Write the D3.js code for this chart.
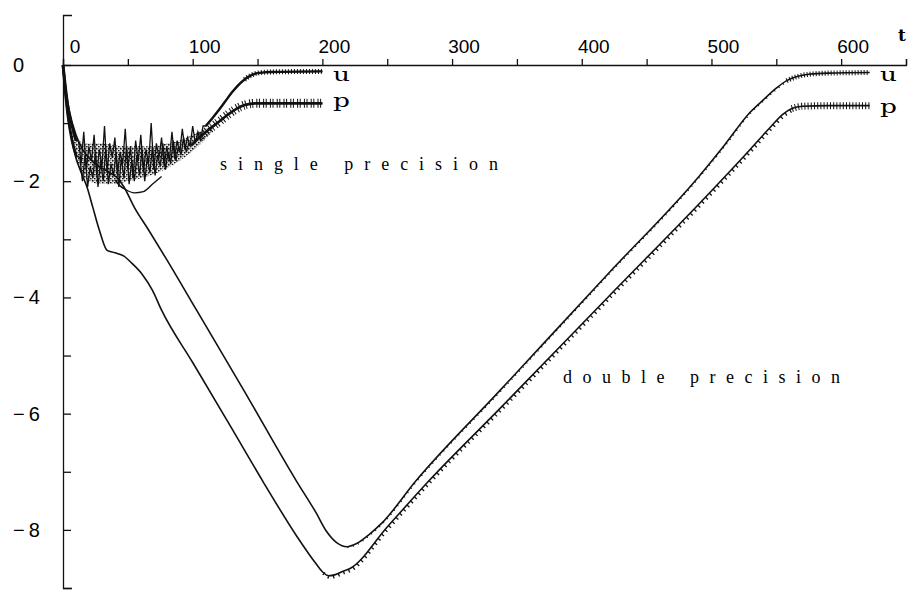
<!DOCTYPE html>
<html>
<head>
<meta charset="utf-8">
<script src="https://cdn.jsdelivr.net/npm/d3@7"></script>
<style>
body { margin: 0; background: #fff; }
</style>
</head>
<body>
<svg id="chart" width="914" height="590"></svg>
<script>
// double precision runs, [t, log10 error]
var dblU = [[0,0],[2,-0.4],[5,-0.8],[10,-1.2],[15,-1.45],[20,-1.6],[28,-1.75],[36,-1.85],[42,-1.95],[47,-2.1],
  [55,-2.45],[66,-2.84],[80,-3.35],[103,-4.22],[140,-5.62],[180,-7.16],[195,-7.7],[203,-8.02],[211,-8.22],
  [219,-8.29],[226,-8.24],[236,-8.08],[246,-7.88],[272,-7.16],[337,-5.6],[420,-3.6],[491,-1.9],[510,-1.38],
  [530,-0.81],[540,-0.6],[550,-0.4],[558,-0.27],[566,-0.2],[575,-0.16],[590,-0.14],[622,-0.13]];
var dblP = [[0,0],[1,-0.3],[3,-0.75],[6,-1.2],[10,-1.6],[14,-1.85],[18.5,-2.1],[23,-2.45],[28,-2.84],[34,-3.19],
  [40,-3.23],[47,-3.29],[53,-3.41],[61,-3.6],[69,-3.88],[76,-4.22],[100,-5.12],[130,-6.25],[154,-7.16],
  [180,-8.1],[195,-8.58],[200,-8.72],[205,-8.79],[210,-8.77],[215,-8.72],[221,-8.67],[250,-7.95],[282,-7.16],
  [337,-5.91],[420,-4.0],[499,-2.19],[530,-1.45],[545,-1.08],[555,-0.85],[562,-0.75],[570,-0.71],[590,-0.7],[622,-0.7]];

// single precision runs: smooth start, noisy stretch (one value every 2 t), then rise and plateau
var sglUHead = [[0,0],[2,-0.4],[4,-0.75],[7,-1.05],[10,-1.3]];
var sglUNoiseStart = 12;
var sglUNoise = [-1.3,-1.7,-1.15,-1.8,-1.4,-1.65,-1.2,-1.9,-1.45,-1.75,-1.05,-1.85,-1.35,-1.6,-1.25,-1.9,-1.5,
  -1.7,-1.1,-1.8,-1.4,-1.95,-1.3,-1.65,-1.2,-1.85,-1.45,-1.7,-1.0,-1.8,-1.35,-1.6,-1.25,-1.75,-1.4,-1.65,-1.15,
  -1.6,-1.3,-1.5,-1.1,-1.45,-1.25,-1.4,-1.05,-1.35,-1.15,-1.3,-1.05];
var sglUTail = [[110,-1.05],[115,-0.92],[120,-0.78],[125,-0.63],[130,-0.48],[135,-0.35],[140,-0.25],[145,-0.18],
  [150,-0.14],[160,-0.12],[200,-0.11]];

var sglPHead = [[0,0],[2,-0.5],[4,-0.9],[7,-1.3],[10,-1.55]];
var sglPNoiseStart = 13;
var sglPNoise = [-1.6,-2.0,-1.55,-2.1,-1.75,-1.95,-1.5,-2.1,-1.65,-2.0,-1.45,-2.05,-1.7,-1.9,-1.5,-2.1,-1.6,
  -1.95,-1.4,-2.05,-1.65,-2.0,-1.55,-1.9,-1.45,-2.0,-1.6,-1.85,-1.4,-1.9,-1.55,-1.75,-1.35,-1.8,-1.5,-1.7,-1.3,
  -1.65,-1.4,-1.55,-1.25,-1.5,-1.35];
var sglPTail = [[99,-1.38],[105,-1.25],[112,-1.12],[120,-0.98],[128,-0.84],[134,-0.75],[140,-0.69],[148,-0.66],[200,-0.66]];

// speckled band between the two noisy runs
var bandT = [7,12,20,30,40,50,60,70,80,90,100,108,115];
var bandTop = [-1.15,-1.3,-1.35,-1.35,-1.38,-1.4,-1.4,-1.4,-1.35,-1.3,-1.2,-1.12,-1.05];
var bandBottom = [-1.35,-1.75,-2.0,-2.05,-2.05,-2.0,-1.95,-1.88,-1.78,-1.65,-1.48,-1.32,-1.15];

// smooth trace under the noisy band
var sglDip = [[40,-1.98],[44,-2.08],[48,-2.14],[55,-2.2],[62,-2.18],[70,-2.03],[76,-1.92]];

var xTicks = [0,50,100,150,200,250,300,350,400,450,500,550,600,650];
var xLabels = [0,100,200,300,400,500,600];
var yTicks = [0,-1,-2,-3,-4,-5,-6,-7,-8,-9];
var yLabels = [0,-2,-4,-6,-8];

function withNoise(head, start, noise, tail) {
  var out = head.slice();
  noise.forEach(function(v, i) { out.push([start + 2 * i, v]); });
  return out.concat(tail);
}
var sglU = withNoise(sglUHead, sglUNoiseStart, sglUNoise, sglUTail);
var sglP = withNoise(sglPHead, sglPNoiseStart, sglPNoise, sglPTail);

var svg = d3.select("#chart");
var x = d3.scaleLinear().domain([0, 650]).range([63, 906]);
var y = d3.scaleLinear().domain([0.86, -9]).range([15, 588]);

var line = d3.line().x(function(d) { return x(d[0]); }).y(function(d) { return y(d[1]); });
var smooth = d3.line().curve(d3.curveMonotoneX).x(function(d) { return x(d[0]); }).y(function(d) { return y(d[1]); });

function part(data, a, b) {
  return data.filter(function(d) { return d[0] >= a && d[0] <= b; });
}

// speckle pattern
var pat = svg.append("defs").append("pattern")
  .attr("id", "speck").attr("width", 4).attr("height", 4).attr("patternUnits", "userSpaceOnUse");
pat.append("rect").attr("x", 0).attr("y", 0).attr("width", 1.6).attr("height", 1.6).attr("fill", "#111");
pat.append("rect").attr("x", 2).attr("y", 2).attr("width", 1.6).attr("height", 1.4).attr("fill", "#111");
pat.append("rect").attr("x", 2.4).attr("y", 0.2).attr("width", 1).attr("height", 1).attr("fill", "#333");
pat.append("rect").attr("x", 0.3).attr("y", 2.6).attr("width", 0.9).attr("height", 0.9).attr("fill", "#444");

// axes
var xAxis = svg.append("g")
  .attr("transform", "translate(0," + y(0) + ")")
  .call(d3.axisTop(x).tickValues(xTicks).tickSize(6).tickSizeOuter(6).tickFormat(""));
xAxis.selectAll("path, line").attr("stroke", "#111").attr("stroke-width", 1.3);

var yAxis = svg.append("g")
  .attr("transform", "translate(" + x(0) + ",0)")
  .call(d3.axisRight(y).tickValues(yTicks).tickSize(8).tickSizeOuter(9).tickFormat(""));
yAxis.selectAll("path, line").attr("stroke", "#111").attr("stroke-width", 1.3);

svg.selectAll(".xl").data(xLabels).enter().append("text")
  .attr("x", function(d) { return x(d) + 12; })
  .attr("y", 53)
  .attr("text-anchor", "middle")
  .style("font-family", "Liberation Sans, Arial, sans-serif")
  .style("font-size", "19px")
  .text(function(d) { return d; });

svg.selectAll(".yl").data(yLabels).enter().append("text")
  .attr("x", 13)
  .attr("y", function(d) { return y(d) + 7; })
  .style("font-family", "Liberation Sans, Arial, sans-serif")
  .style("font-size", "20px")
  .style("letter-spacing", "4px")
  .text(function(d) { return d === 0 ? "0" : "\u2212" + Math.abs(d); });

svg.append("text").attr("x", 898).attr("y", 41)
  .style("font-family", "DejaVu Serif, serif").style("font-weight", "bold").style("font-size", "17px")
  .text("t");

// single precision band
svg.append("path")
  .datum(bandT.map(function(t, i) { return [t, bandTop[i], bandBottom[i]]; }))
  .attr("d", d3.area().curve(d3.curveMonotoneX)
    .x(function(d) { return x(d[0]); })
    .y0(function(d) { return y(d[2]); })
    .y1(function(d) { return y(d[1]); }))
  .attr("fill", "url(#speck)");

// double precision
svg.append("path").datum(dblU).attr("d", smooth)
  .attr("fill", "none").attr("stroke", "#111").attr("stroke-width", 1.6);
svg.append("path").datum(dblP).attr("d", smooth)
  .attr("fill", "none").attr("stroke", "#111").attr("stroke-width", 1.6);

// serrations on the rising parts and plateaus
svg.append("path").datum(part(dblP, 200, 562)).attr("d", smooth)
  .attr("transform", "translate(1,1.5)")
  .attr("fill", "none").attr("stroke", "#111").attr("stroke-width", 3.2).attr("stroke-dasharray", "1.3,4.2");
svg.append("path").datum(part(dblU, 219, 560)).attr("d", smooth)
  .attr("transform", "translate(0.4,0.6)")
  .attr("fill", "none").attr("stroke", "#111").attr("stroke-width", 2).attr("stroke-dasharray", "1,4.5");
svg.append("path").datum(part(dblU, 556, 622)).attr("d", smooth)
  .attr("fill", "none").attr("stroke", "#111").attr("stroke-width", 5).attr("stroke-dasharray", "1,2");
svg.append("path").datum(part(dblP, 560, 622)).attr("d", smooth)
  .attr("fill", "none").attr("stroke", "#111").attr("stroke-width", 7).attr("stroke-dasharray", "1,2.2");

// single precision
svg.append("path").datum(sglDip).attr("d", smooth)
  .attr("fill", "none").attr("stroke", "#111").attr("stroke-width", 1.4);
svg.append("path").datum(sglU).attr("d", line)
  .attr("fill", "none").attr("stroke", "#111").attr("stroke-width", 1.3);
svg.append("path").datum(sglP).attr("d", line)
  .attr("fill", "none").attr("stroke", "#111").attr("stroke-width", 1.3);
svg.append("path").datum(sglUHead).attr("d", smooth)
  .attr("fill", "none").attr("stroke", "#111").attr("stroke-width", 2.8);
svg.append("path").datum(sglPHead).attr("d", smooth)
  .attr("fill", "none").attr("stroke", "#111").attr("stroke-width", 2.8);
svg.append("path").datum(sglUTail).attr("d", smooth)
  .attr("fill", "none").attr("stroke", "#111").attr("stroke-width", 2.4);
svg.append("path").datum(sglPTail).attr("d", smooth)
  .attr("fill", "none").attr("stroke", "#111").attr("stroke-width", 2.6);
svg.append("path").datum(part(sglUTail, 140, 200)).attr("d", smooth)
  .attr("fill", "none").attr("stroke", "#111").attr("stroke-width", 5).attr("stroke-dasharray", "1,2");
svg.append("path").datum(part(sglPTail, 105, 200)).attr("d", smooth)
  .attr("fill", "none").attr("stroke", "#111").attr("stroke-width", 9).attr("stroke-dasharray", "1,1.6,1,3.2");

// curve labels
var serif = "DejaVu Serif, Liberation Serif, serif";
[[333, 81, "u"], [333, 107, "p"], [880, 81, "u"], [880, 113, "p"]].forEach(function(l) {
  svg.append("text").attr("x", l[0]).attr("y", l[1])
    .attr("textLength", 17).attr("lengthAdjust", "spacingAndGlyphs")
    .style("font-family", serif).style("font-size", "19px")
    .text(l[2]);
});

svg.append("text").attr("x", 220).attr("y", 170)
  .attr("textLength", 278).attr("lengthAdjust", "spacing")
  .style("font-family", "Liberation Serif, serif").style("font-size", "18px")
  .text("single precision");
svg.append("text").attr("x", 563).attr("y", 383)
  .attr("textLength", 277).attr("lengthAdjust", "spacing")
  .style("font-family", "Liberation Serif, serif").style("font-size", "18px")
  .text("double precision");
</script>
</body>
</html>
